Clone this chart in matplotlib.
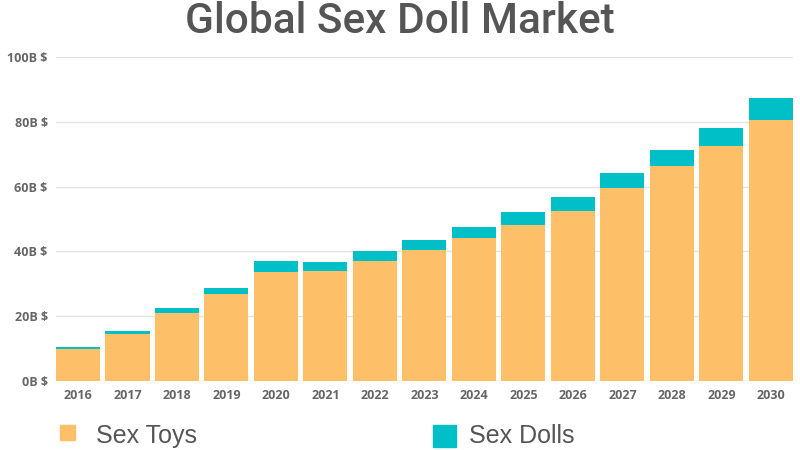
import matplotlib.pyplot as plt
from matplotlib.patches import Rectangle
import numpy as np

# Global sex doll market, billions of USD
YEARS = ['2016', '2017', '2018', '2019', '2020', '2021', '2022', '2023',
         '2024', '2025', '2026', '2027', '2028', '2029', '2030']
SEX_TOYS = [10.0, 14.6, 21.1, 27.0, 33.7, 34.0, 37.1, 40.4,
            44.1, 48.1, 52.6, 59.5, 66.5, 72.6, 80.6]
SEX_DOLLS = [0.5, 0.8, 1.4, 1.7, 3.4, 2.6, 2.9, 3.2,
             3.4, 4.0, 4.1, 4.7, 4.9, 5.4, 6.8]
YTICKS = [0, 20, 40, 60, 80, 100]

ORANGE = '#FDC068'
TEAL = '#00BFC6'
GREY = '#555555'

plt.rcParams['font.family'] = ['Open Sans', 'DejaVu Sans']

fig = plt.figure(figsize=(8, 4.5), dpi=100)
ax = fig.add_axes([0.07, 0.1533, 0.921, 0.72])

x = np.arange(len(YEARS))
ax.bar(x, SEX_TOYS, width=0.89, color=ORANGE, zorder=2)
ax.bar(x, SEX_DOLLS, width=0.89, bottom=SEX_TOYS, color=TEAL, zorder=2)

ax.set_xlim(-0.445, len(YEARS) - 0.555)
ax.set_ylim(0, 100)
ax.set_xticks(x)
ax.set_xticklabels(YEARS)
ax.set_yticks(YTICKS)
ax.set_yticklabels(['%dB $' % v for v in YTICKS])
ax.tick_params(length=0, labelsize=9, labelcolor='#666666', pad=6)
for lab in ax.get_xticklabels() + ax.get_yticklabels():
    lab.set_fontweight('bold')
ax.grid(axis='y', color='#e3e3e3', linewidth=1, zorder=0)
for s in ax.spines.values():
    s.set_visible(False)

fig.text(0.5, 0.952, 'Global Sex Doll Market', ha='center', va='center',
         fontsize=30.5, color=GREY, fontweight='medium',
         family=['Roboto', 'DejaVu Sans'])

# legend drawn by hand to match the odd marker sizes
fig.patches.append(Rectangle((60 / 800, 1 - 440 / 450), 15 / 800, 15 / 450,
                             transform=fig.transFigure, color=ORANGE))
fig.text(96 / 800, 1 - 436 / 450, 'Sex Toys', ha='left', va='center',
         fontsize=18, color=GREY, family=['Liberation Sans', 'DejaVu Sans'])
fig.patches.append(Rectangle((433 / 800, 1 - 447 / 450), 23 / 800, 22 / 450,
                             transform=fig.transFigure, color=TEAL))
fig.text(469 / 800, 1 - 436 / 450, 'Sex Dolls', ha='left', va='center',
         fontsize=18, color=GREY, family=['Liberation Sans', 'DejaVu Sans'])

fig.savefig('out.png', dpi=100)
